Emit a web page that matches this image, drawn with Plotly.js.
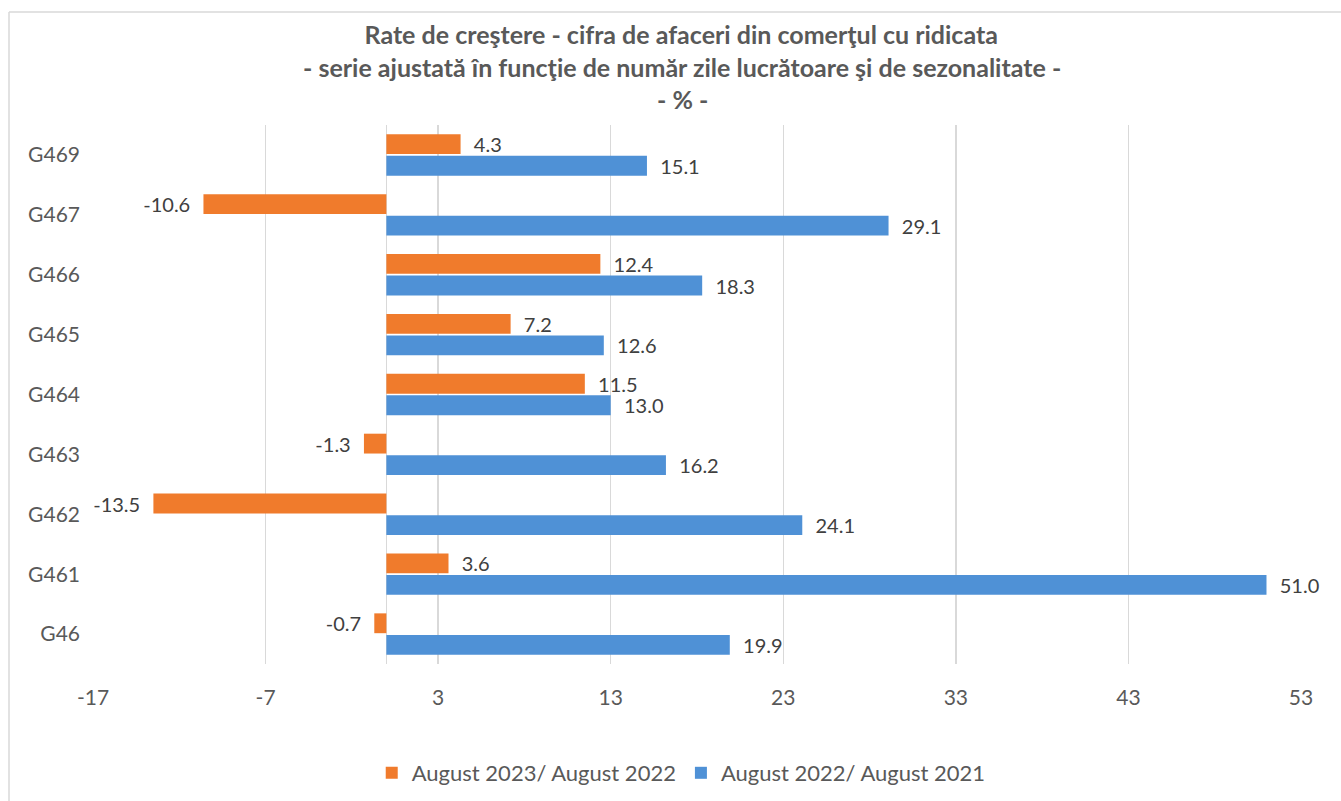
<!DOCTYPE html>
<html>
<head>
<meta charset="utf-8">
<script src="https://cdn.plot.ly/plotly-3.0.1.min.js"></script>
<style>html,body{margin:0;padding:0;background:#fff;}#chart{width:1341px;height:801px;}</style>
</head>
<body>
<div id="chart"></div>
<script>
const categories = ["G46", "G461", "G462", "G463", "G464", "G465", "G466", "G467", "G469"];
const aug2023_vs_2022 = [-0.7, 3.6, -13.5, -1.3, 11.5, 7.2, 12.4, -10.6, 4.3];
const aug2022_vs_2021 = [19.9, 51.0, 24.1, 16.2, 13.0, 12.6, 18.3, 29.1, 15.1];
const seriesNames = ["August 2023/ August 2022", "August 2022/ August 2021"];
const xTickValues = [-17, -7, 3, 13, 23, 33, 43, 53];
const xTickLabels = ["-17", "-7", "3", "13", "23", "33", "43", "53"];
const titleLines = [
  "Rate de creştere - cifra de afaceri din comerţul cu ridicata",
  "- serie ajustată în funcţie de număr zile lucrătoare şi de sezonalitate -",
  "- % -"
];

const FONT = "Lato, 'Open Sans', sans-serif";
const textFont = {family: FONT, size: 20, color: "#404040"};
const PAD = "\u00A0\u00A0";
function labels(vals) {
  return vals.map(v => v < 0 ? v.toFixed(1) + PAD : PAD + v.toFixed(1));
}

const traces = [
  {
    type: "bar", orientation: "h", name: seriesNames[1],
    y: categories, x: aug2022_vs_2021,
    marker: {color: "#4F91D6"},
    text: labels(aug2022_vs_2021), texttemplate: "%{text}",
    textposition: "outside", constraintext: "none", cliponaxis: false,
    textfont: textFont, legendrank: 2, hoverinfo: "x+y"
  },
  {
    type: "bar", orientation: "h", name: seriesNames[0],
    y: categories, x: aug2023_vs_2022,
    marker: {color: "#F07B2C"},
    text: labels(aug2023_vs_2022), texttemplate: "%{text}",
    textposition: "outside", constraintext: "none", cliponaxis: false,
    textfont: textFont, legendrank: 1, hoverinfo: "x+y"
  }
];

const layout = {
  width: 1341, height: 801,
  paper_bgcolor: "#ffffff", plot_bgcolor: "#ffffff",
  font: {family: FONT, color: "#595959", size: 21},
  margin: {l: 93, r: 40, t: 125, b: 137},
  barmode: "group", bargap: 0.28, bargroupgap: 0.08,
  title: {
    text: titleLines[0],
    font: {family: FONT, size: 25, color: "#595959", weight: "bold"},
    xref: "container", x: 0.508, xanchor: "center",
    yref: "container", y: 1 - 35/801, yanchor: "middle"
  },
  annotations: [
    {text: "<b>" + titleLines[1] + "</b>", xref: "paper", yref: "paper", showarrow: false,
     x: (682 - 93) / 1208, y: 1 + (125 - 67) / 539, xanchor: "center", yanchor: "middle",
     font: {family: FONT, size: 25, color: "#595959"}},
    {text: "<b>" + titleLines[2] + "</b>", xref: "paper", yref: "paper", showarrow: false,
     x: (682 - 93) / 1208, y: 1 + (125 - 99) / 539, xanchor: "center", yanchor: "middle",
     font: {family: FONT, size: 25, color: "#595959"}}
  ],
  xaxis: {
    range: [-17, 53], tickmode: "array", tickvals: xTickValues, ticktext: xTickLabels,
    showgrid: true, gridcolor: "#d9d9d9", gridwidth: 1.5,
    zeroline: true, zerolinecolor: "#d9d9d9", zerolinewidth: 1.5,
    showline: false, ticks: "", ticklabelstandoff: 19,
    tickfont: {family: FONT, size: 21, color: "#595959"}, fixedrange: true
  },
  yaxis: {
    type: "category", categoryorder: "array", categoryarray: categories,
    showgrid: false, zeroline: false, showline: false, ticks: "",
    ticklabelstandoff: 12,
    tickfont: {family: FONT, size: 21, color: "#595959"}, fixedrange: true
  },
  legend: {
    orientation: "h", xref: "container", yref: "container",
    x: 0.508, xanchor: "center", y: (801 - 773) / 801, yanchor: "middle",
    font: {family: FONT, size: 22, color: "#595959"},
    itemwidth: 30, traceorder: "normal"
  },
  shapes: [
    {type: "line", xref: "paper", yref: "paper",
     x0: (9 - 93) / 1208, x1: (9 - 93) / 1208, y0: 1 + (125 - 12) / 539, y1: -(801 - 664) / 539 - 0.01,
     line: {color: "#d9d9d9", width: 1.5}},
    {type: "line", xref: "paper", yref: "paper",
     x0: (9 - 93) / 1208, x1: (1341 - 93) / 1208, y0: 1 + (125 - 12) / 539, y1: 1 + (125 - 12) / 539,
     line: {color: "#d9d9d9", width: 1.5}}
  ],
  showlegend: true
};

Plotly.newPlot("chart", traces, layout, {displayModeBar: false, staticPlot: true});
</script>
</body>
</html>
